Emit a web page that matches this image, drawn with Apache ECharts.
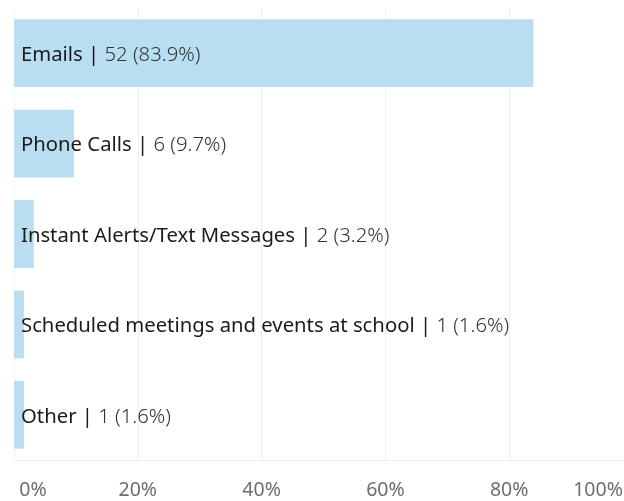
<!DOCTYPE html>
<html>
<head>
<meta charset="utf-8">
<script src="https://cdn.jsdelivr.net/npm/echarts@6/dist/echarts.min.js"></script>
<style>
html,body{margin:0;padding:0;background:#fff;}
#chart{width:624px;height:501px;}
</style>
</head>
<body>
<div id="chart"></div>
<script>
const categories = ["Emails", "Phone Calls", "Instant Alerts/Text Messages", "Scheduled meetings and events at school", "Other"];
const counts = [52, 6, 2, 1, 1];
const percents = [83.9, 9.7, 3.2, 1.6, 1.6];
const xTicks = [0, 20, 40, 60, 80, 100];

const chart = echarts.init(document.getElementById('chart'), null, {renderer: 'canvas'});
const FONT = "'Noto Sans', 'DejaVu Sans', sans-serif";
const AXIS_FS = 19.5;
const LABEL_FS = 20.3;

chart.setOption({
  animation: false,
  grid: {left: 14, width: 619, top: 8, bottom: 41, containLabel: false, outerBoundsMode: 'none'},
  xAxis: {
    type: 'value',
    min: xTicks[0],
    max: xTicks[xTicks.length - 1],
    interval: xTicks[1] - xTicks[0],
    axisLine: {show: true, lineStyle: {color: '#f0f0f0', width: 1}},
    axisTick: {show: false},
    splitLine: {show: true, lineStyle: {color: '#efefef', width: 1}},
    axisLabel: {
      margin: 20,
      color: '#6e6e6e',
      fontFamily: FONT,
      fontSize: AXIS_FS,
      formatter: function (v) {
        if (v === xTicks[0]) return '{first|' + v + '%}';
        if (v === xTicks[xTicks.length - 1]) return '{last|' + v + '%}';
        return v + '%';
      },
      rich: {
        first: {padding: [0, 0, 0, 38], color: '#6e6e6e', fontFamily: FONT, fontSize: AXIS_FS},
        last: {padding: [0, 70, 0, 0], color: '#6e6e6e', fontFamily: FONT, fontSize: AXIS_FS}
      }
    }
  },
  yAxis: {
    type: 'category',
    data: categories,
    inverse: true,
    axisLine: {show: true, lineStyle: {color: '#f3f3f3'}},
    axisTick: {show: false},
    axisLabel: {show: false},
    splitLine: {show: false}
  },
  series: [{
    type: 'bar',
    data: percents,
    barCategoryGap: '25%',
    itemStyle: {color: '#badef1'},
    label: {
      show: true,
      position: 'insideLeft',
      distance: 7,
      offset: [0, 2],
      formatter: function (p) {
        return '{n|' + categories[p.dataIndex] + ' |}{v| ' + counts[p.dataIndex] + ' (' + percents[p.dataIndex].toFixed(1) + '%)}';
      },
      rich: {
        n: {color: '#1b1b1b', fontFamily: FONT, fontSize: LABEL_FS},
        v: {color: '#333333', fontFamily: FONT, fontSize: LABEL_FS, fontWeight: 300}
      }
    }
  }]
});
</script>
</body>
</html>
